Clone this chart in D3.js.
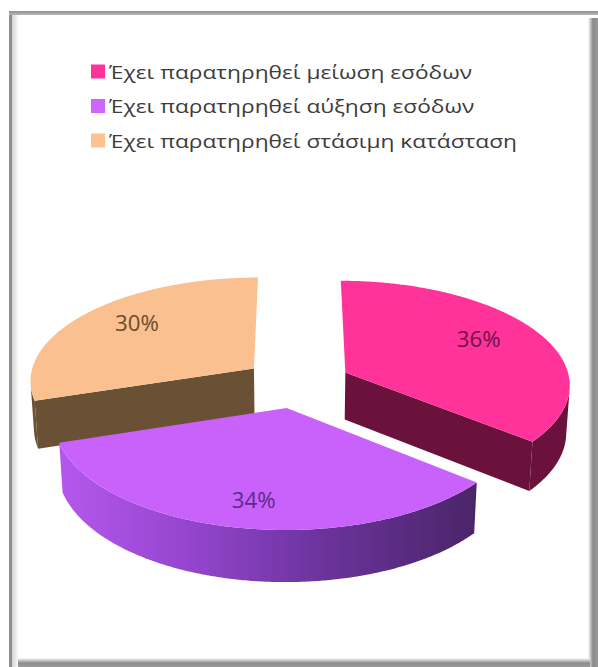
<!DOCTYPE html>
<html>
<head>
<meta charset="utf-8">
<script src="https://cdn.jsdelivr.net/npm/d3@7"></script>
<style>
  html, body { margin: 0; padding: 0; background: #fff; }
  svg { display: block; }
</style>
</head>
<body>
<svg id="chart" width="598" height="667"></svg>
<script>
// ---- data ----
const categories = [
  "Έχει παρατηρηθεί μείωση εσόδων",
  "Έχει παρατηρηθεί αύξηση εσόδων",
  "Έχει παρατηρηθεί στάσιμη κατάσταση"
];
const shares = [36, 34, 30];
const shareLabels = ["36%", "34%", "30%"];
const topColors = ["#FF3399", "#C862FA", "#FAC08F"];
const sideColors = ["#6B123C", "#7B3AB0", "#6A5034"];
const labelColors = ["#6E1446", "#5B2B8A", "#6B4C2C"];
const legendColors = ["#FF3399", "#CC66FF", "#FFC28E"];

// ---- layout ----
const svg = d3.select("#chart");
const defs = svg.append("defs");

function linGrad(id, x1, y1, x2, y2, stops) {
  const g = defs.append("linearGradient").attr("id", id)
    .attr("x1", x1).attr("y1", y1).attr("x2", x2).attr("y2", y2);
  stops.forEach(s => g.append("stop").attr("offset", s[0]).attr("stop-color", s[1]));
  return g;
}

// frame with soft shadowed edges
linGrad("gLeft", 0, 0, 1, 0, [[0, "#d4d4d4"], [1, "#ffffff"]]);
linGrad("gTop", 0, 0, 0, 1, [[0, "#8e8e8e"], [1, "#b8b8b8"]]);
linGrad("gRight", 0, 0, 1, 0, [[0, "#ffffff"], [0.5, "#8a8a8a"], [1, "#9a9a9a"]]);
linGrad("gBottom", 0, 0, 0, 1, [[0, "#ffffff"], [0.55, "#8c8c8c"], [1, "#9a9a9a"]]);

const frame = svg.append("g");
frame.append("rect").attr("x", 12).attr("y", 14).attr("width", 7).attr("height", 653).attr("fill", "url(#gLeft)");
frame.append("rect").attr("x", 9).attr("y", 11).attr("width", 3).attr("height", 656).attr("fill", "#8f8f8f");
frame.append("rect").attr("x", 9).attr("y", 11).attr("width", 589).attr("height", 4).attr("fill", "url(#gTop)");
frame.append("rect").attr("x", 588).attr("y", 18).attr("width", 10).attr("height", 649).attr("fill", "url(#gRight)");
frame.append("rect").attr("x", 18).attr("y", 658).attr("width", 572).attr("height", 9).attr("fill", "url(#gBottom)");

// ---- legend ----
const legend = svg.append("g").attr("font-family", "'Open Sans', 'Noto Sans', sans-serif")
  .attr("font-size", 17.5).attr("fill", "#3c3c3c");
const legendRow = d3.scaleBand().domain(d3.range(categories.length)).range([64.5, 168]).paddingInner(0);
const legendWidth = 408;
const items = legend.selectAll("g.item").data(categories).join("g").attr("class", "item")
  .attr("transform", (d, i) => `translate(91,${legendRow(i)})`);
items.append("rect").attr("width", 14).attr("height", 14)
  .attr("fill", (d, i) => legendColors[i]);
const legendTexts = items.append("text").attr("x", 18).attr("y", 14).text(d => d);
const natural = legendTexts.nodes().map(n => n.getComputedTextLength());
const stretch = legendWidth / d3.max(natural);
legendTexts.attr("textLength", (d, i) => natural[i] * stretch).attr("lengthAdjust", "spacingAndGlyphs");

// ---- 3D exploded pie ----
const view = { cx: 297, cy: 383, R: 225, depth: 54, explode: 54, sinA: 0.46, D: 1900 };
const cosA = Math.sqrt(1 - view.sinA * view.sinA);
const camera = [0, view.D * view.sinA, view.D * cosA];

function project(X, Y, Z) {
  const u = Y * cosA - Z * view.sinA;
  const w = Z * cosA + Y * view.sinA;
  const s = view.D / (view.D - w);
  return [view.cx + X * s, view.cy - u * s];
}
function depthOf(X, Y, Z) { return Z * cosA + Y * view.sinA; }
const line = d3.line().curve(d3.curveLinear);
const closed = pts => line(pts) + "Z";

const pie = d3.pie().sort(null).value(d => d);
const arcs = pie(shares).map((a, i) => {
  const mid = (a.startAngle + a.endAngle) / 2;
  const ox = view.explode * Math.sin(mid);
  const oz = -view.explode * Math.cos(mid);
  return { ...a, i, mid, ox, oz };
});

function rimPoint(a, t, Y, r = view.R) {
  return [a.ox + r * Math.sin(t), Y, a.oz - r * Math.cos(t)];
}
// cosine between a face normal and the direction to the camera
function facing(n, p) {
  const v = [camera[0] - p[0], camera[1] - p[1], camera[2] - p[2]];
  const len = Math.hypot(...v);
  return (n[0] * v[0] + n[1] * v[1] + n[2] * v[2]) / len;
}

// purple wall shading
const wallGrad = linGrad("gWall1", 0, 0, 1, 0,
  [[0, "#B458EC"], [0.3, "#9646CF"], [0.62, "#6C349E"], [1, "#4A2468"]])
  .attr("gradientUnits", "userSpaceOnUse");

const pieG = svg.append("g");
const order = arcs.slice().sort((p, q) => depthOf(p.ox, 0, p.oz) - depthOf(q.ox, 0, q.oz));
const step = Math.PI / 360;

order.forEach(a => {
  const g = pieG.append("g");
  const Hd = -view.depth;
  const apexTop = [a.ox, 0, a.oz], apexBot = [a.ox, Hd, a.oz];

  // radial cut faces (skip those seen almost edge-on)
  [[a.startAngle, a.startAngle - Math.PI / 2], [a.endAngle, a.endAngle + Math.PI / 2]].forEach(([t, nt]) => {
    const n = [Math.sin(nt), 0, -Math.cos(nt)];
    const c = rimPoint(a, t, Hd / 2, view.R / 2);
    if (facing(n, c) < 0.06) return;
    const pts = [apexTop, rimPoint(a, t, 0), rimPoint(a, t, Hd), apexBot].map(p => project(...p));
    g.append("path").attr("d", closed(pts)).attr("fill", sideColors[a.i]);
  });

  // outer curved wall (visible part)
  const ts = d3.range(a.startAngle, a.endAngle, step).concat([a.endAngle]);
  const vis = ts.filter(t => facing([Math.sin(t), 0, -Math.cos(t)], rimPoint(a, t, Hd / 2)) > 0);
  if (vis.length > 1) {
    const topPts = vis.map(t => project(...rimPoint(a, t, 0)));
    const botPts = vis.slice().reverse().map(t => project(...rimPoint(a, t, Hd)));
    const all = topPts.concat(botPts);
    let fill = sideColors[a.i];
    if (a.i === 1) {
      const xs = all.map(p => p[0]);
      wallGrad.attr("x1", d3.min(xs)).attr("x2", d3.max(xs)).attr("y1", 0).attr("y2", 0);
      fill = "url(#gWall1)";
    }
    g.append("path").attr("d", closed(all)).attr("fill", fill);
  }

  // top face
  const topFace = [project(...apexTop)].concat(ts.map(t => project(...rimPoint(a, t, 0))));
  g.append("path").attr("d", closed(topFace)).attr("fill", topColors[a.i]);
});

// value labels on the top faces
const labelK = 0.69, labelLift = 1.12;
pieG.selectAll("text.val").data(arcs).join("text").attr("class", "val")
  .each(function (a) {
    const p = project(...rimPoint(a, a.mid, 0, view.R * labelK));
    d3.select(this).attr("x", p[0]).attr("y", view.cy + (p[1] - view.cy) * labelLift);
  })
  .attr("text-anchor", "middle").attr("dominant-baseline", "central")
  .attr("font-family", "'Open Sans', 'Noto Sans', sans-serif").attr("font-size", 21)
  .attr("fill", a => labelColors[a.i])
  .text(a => shareLabels[a.i])
  .each(function () {
    const len = this.getComputedTextLength();
    d3.select(this).attr("textLength", len * 1.06).attr("lengthAdjust", "spacingAndGlyphs");
  });
</script>
</body>
</html>
